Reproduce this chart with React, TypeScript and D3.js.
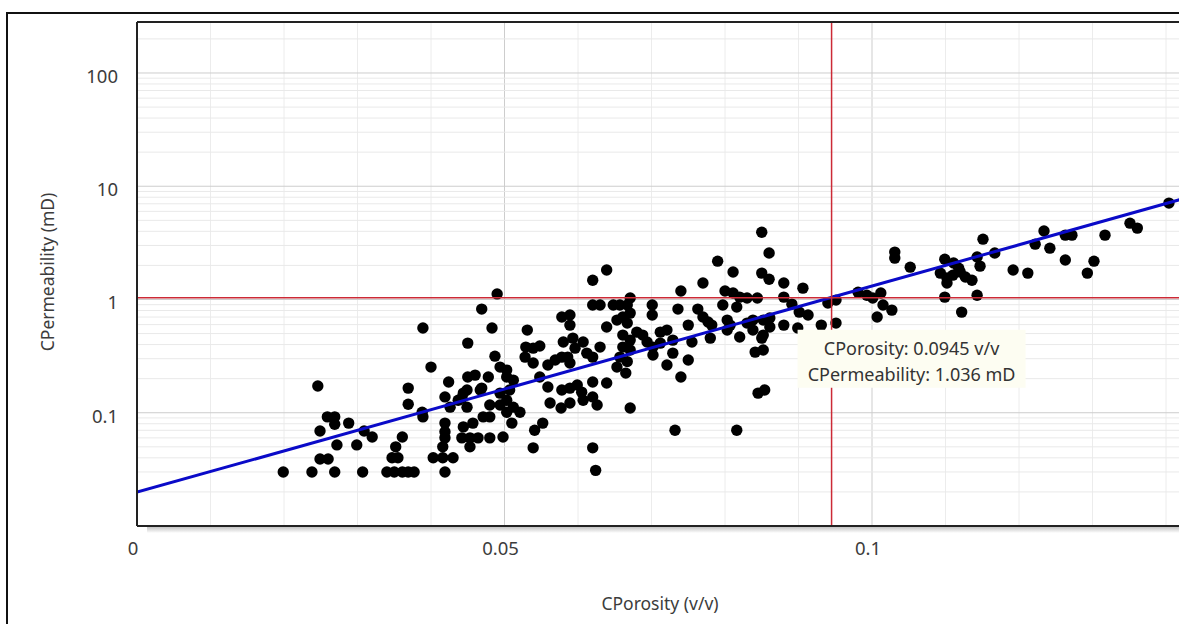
import React from "react";
import * as d3 from "d3";

const porosity = [
  0.0199, 0.0238, 0.0269, 0.0307, 0.0340, 0.0350, 0.0361, 0.0369, 0.0377, 0.0419,
  0.0246, 0.0389, 0.0400, 0.0369, 0.0369, 0.0259, 0.0269, 0.0269, 0.0288, 0.0249,
  0.0309, 0.0320, 0.0272, 0.0299, 0.0249, 0.0260, 0.0361, 0.0352, 0.0347, 0.0355,
  0.0389, 0.0388, 0.0419, 0.0424, 0.0419, 0.0419, 0.0419, 0.0416, 0.0403, 0.0416,
  0.0430, 0.0442, 0.0453, 0.0464, 0.0480, 0.0453, 0.0444, 0.0457, 0.0471, 0.0480,
  0.0442, 0.0449, 0.0450, 0.0460, 0.0469, 0.0450, 0.0469, 0.0483, 0.0490, 0.0487,
  0.0478, 0.0494, 0.0503, 0.0480, 0.0494, 0.0503, 0.0498, 0.0507, 0.0444, 0.0437,
  0.0426, 0.0449, 0.0467, 0.0503, 0.0512, 0.0494, 0.0503, 0.0512, 0.0521, 0.0510,
  0.0541, 0.0552, 0.0539, 0.0531, 0.0529, 0.0539, 0.0548, 0.0528, 0.0539, 0.0559,
  0.0569, 0.0578, 0.0586, 0.0589, 0.0548, 0.0559, 0.0562, 0.0577, 0.0589, 0.0578,
  0.0589, 0.0599, 0.0605, 0.0607, 0.0578, 0.0589, 0.0589, 0.0580, 0.0593, 0.0607,
  0.0612, 0.0620, 0.0596, 0.0620, 0.0639, 0.0620, 0.0630, 0.0620, 0.0620, 0.0626,
  0.0620, 0.0624, 0.0639, 0.0630, 0.0639, 0.0648, 0.0657, 0.0667, 0.0671, 0.0653,
  0.0661, 0.0671, 0.0667, 0.0661, 0.0671, 0.0661, 0.0671, 0.0657, 0.0667, 0.0653,
  0.0665, 0.0671, 0.0680, 0.0688, 0.0694, 0.0702, 0.0701, 0.0701, 0.0702, 0.0712,
  0.0721, 0.0712, 0.0721, 0.0729, 0.0729, 0.0736, 0.0740, 0.0750, 0.0755, 0.0750,
  0.0740, 0.0763, 0.0770, 0.0777, 0.0782, 0.0780, 0.0770, 0.0790, 0.0800, 0.0811,
  0.0820, 0.0830, 0.0844, 0.0797, 0.0816, 0.0803, 0.0803, 0.0820, 0.0811, 0.0732,
  0.0816, 0.0850, 0.0860, 0.0850, 0.0860, 0.0880, 0.0906, 0.0807, 0.0830, 0.0838,
  0.0852, 0.0861, 0.0838, 0.0852, 0.0861, 0.0850, 0.0841, 0.0852, 0.0845, 0.0854,
  0.0880, 0.0891, 0.0901, 0.0913, 0.0880, 0.0899, 0.0931, 0.0940, 0.0951, 0.0951,
  0.0981, 0.0993, 0.1001, 0.1012, 0.1015, 0.1027, 0.1007, 0.1031, 0.1031, 0.1052,
  0.1099, 0.1111, 0.1093, 0.1102, 0.1110, 0.1120, 0.1127, 0.1136, 0.1102, 0.1099,
  0.1122, 0.1143, 0.1147, 0.1143, 0.1151, 0.1167, 0.1192, 0.1212, 0.1222, 0.1234,
  0.1242, 0.1263, 0.1272, 0.1263, 0.1293, 0.1302, 0.1317, 0.1351, 0.1361, 0.1404,
  0.1118,
];

const permeability = [
  0.030, 0.030, 0.030, 0.030, 0.030, 0.030, 0.030, 0.030, 0.030, 0.030,
  0.172, 0.560, 0.253, 0.165, 0.119, 0.092, 0.092, 0.079, 0.081, 0.069,
  0.069, 0.061, 0.052, 0.052, 0.039, 0.039, 0.061, 0.050, 0.040, 0.040,
  0.092, 0.101, 0.138, 0.187, 0.081, 0.068, 0.060, 0.050, 0.040, 0.040,
  0.040, 0.060, 0.060, 0.060, 0.060, 0.050, 0.075, 0.081, 0.092, 0.092,
  0.135, 0.159, 0.207, 0.215, 0.165, 0.412, 0.823, 0.560, 1.12, 0.316,
  0.207, 0.253, 0.238, 0.117, 0.117, 0.101, 0.061, 0.159, 0.149, 0.129,
  0.112, 0.112, 0.159, 0.207, 0.194, 0.149, 0.129, 0.112, 0.101, 0.081,
  0.070, 0.081, 0.049, 0.537, 0.380, 0.372, 0.388, 0.310, 0.275, 0.264,
  0.292, 0.310, 0.310, 0.275, 0.207, 0.169, 0.122, 0.110, 0.122, 0.159,
  0.165, 0.176, 0.152, 0.129, 0.700, 0.729, 0.594, 0.421, 0.456, 0.421,
  0.336, 0.310, 0.372, 1.48, 1.82, 0.893, 0.893, 0.187, 0.138, 0.117,
  0.049, 0.031, 0.183, 0.380, 0.571, 0.893, 0.893, 0.893, 1.03, 0.658,
  0.700, 0.758, 0.619, 0.485, 0.438, 0.380, 0.358, 0.310, 0.283, 0.253,
  0.224, 0.110, 0.515, 0.485, 0.421, 0.380, 0.893, 0.729, 0.323, 0.515,
  0.537, 0.412, 0.264, 0.438, 0.336, 0.823, 1.19, 0.594, 0.421, 0.292,
  0.207, 0.823, 0.700, 0.632, 0.594, 0.456, 1.40, 2.18, 1.19, 1.14,
  1.05, 1.03, 1.03, 0.893, 0.857, 0.658, 0.537, 0.466, 1.75, 0.070,
  0.070, 3.93, 2.57, 1.71, 1.51, 1.40, 1.26, 0.594, 0.619, 0.658,
  0.658, 0.686, 0.537, 0.485, 0.571, 0.456, 0.343, 0.358, 0.149, 0.159,
  1.05, 0.91, 0.774, 0.729, 0.594, 0.560, 0.594, 0.930, 0.988, 0.619,
  1.16, 1.09, 1.03, 1.14, 0.893, 0.806, 0.700, 2.62, 2.32, 1.93,
  2.27, 2.10, 1.71, 1.55, 1.64, 1.75, 1.58, 1.48, 1.40, 1.05,
  0.774, 2.37, 1.97, 1.09, 3.41, 2.57, 1.82, 1.71, 3.08, 4.02,
  2.84, 3.70, 3.70, 2.23, 1.71, 2.18, 3.70, 4.72, 4.27, 7.10,
  1.89,
];

// regression line end points
const fitPorosity = [0, 0.15];
const fitPermeability = [0.0199, 10.69];

// cursor readout
const cursorPorosity = 0.0945;
const cursorPermeability = 1.036;

const xTickValues = [0, 0.05, 0.1];
const xTickLabels = ["0", "0.05", "0.1"];
const yTickValues = [0.1, 1, 10, 100];
const yTickLabels = ["0.1", "1", "10", "100"];

const xTitle = "CPorosity (v/v)";
const yTitle = "CPermeability (mD)";

export default function App() {
  const W = 1179;
  const H = 624;
  const left = 137;
  const top = 22;
  const bottom = 526;
  const right = 1239.5;

  const x = d3.scaleLinear().domain([0, 0.15]).range([left, right]);
  const y = d3.scaleLog().domain([0.01, 282]).range([bottom, top]);

  const minorX = d3.range(1, 15).map((i) => i / 100);
  const yGrid: { v: number; major: boolean }[] = [];
  for (let d = -2; d <= 2; d++) {
    for (let m = 1; m <= 9; m++) {
      const v = m * Math.pow(10, d);
      if (v > 282 || v <= 0.01) continue;
      yGrid.push({ v, major: m === 1 });
    }
  }

  const fitLine = d3
    .line<number>()
    .x((d) => x(d))
    .y((_, i) => y(fitPermeability[i]));

  const font = "'Noto Sans', 'DejaVu Sans', sans-serif";
  const cx = x(cursorPorosity);
  const cy = y(cursorPermeability);
  const tipCx = cx + 80;

  return (
    <svg
      width={W}
      height={H}
      style={{ position: "absolute", left: 0, top: 0, background: "#fff" }}
    >
      <defs>
        <clipPath id="plotClip">
          <rect x={left} y={top} width={right - left} height={bottom - top} />
        </clipPath>
        <linearGradient id="shadow" x1="0" y1="0" x2="0" y2="1">
          <stop offset="0" stopColor="#c4c4c4" />
          <stop offset="1" stopColor="#ffffff" />
        </linearGradient>
      </defs>
      <rect x={0} y={0} width={W} height={H} fill="#fff" />
      {/* outer frame */}
      <rect x={7} y={13} width={W + 20} height={H + 20} fill="none" stroke="#111" strokeWidth={2} />

      {/* shadow under x axis */}
      <rect x={left + 10} y={bottom + 1} width={right - left} height={6} fill="url(#shadow)" />

      <g clipPath="url(#plotClip)">
        <rect x={left} y={top} width={right - left} height={bottom - top} fill="#fff" />
        {minorX.map((v) => {
          const major = Math.abs((v * 100) % 5) < 1e-6;
          return (
            <line
              key={"gx" + v}
              x1={x(v)}
              x2={x(v)}
              y1={top}
              y2={bottom}
              stroke={major ? "#cdcdcd" : "#ececec"}
              strokeWidth={1}
            />
          );
        })}
        {yGrid.map((g) => (
          <line
            key={"gy" + g.v}
            x1={left}
            x2={right}
            y1={y(g.v)}
            y2={y(g.v)}
            stroke={g.major ? "#cdcdcd" : "#e9e9e9"}
            strokeWidth={1}
          />
        ))}

        {porosity.map((p, i) => (
          <circle key={"p" + i} cx={x(p)} cy={y(permeability[i])} r={5.7} fill="#000" />
        ))}

        <path d={fitLine(fitPorosity) || ""} fill="none" stroke="#0a0ac8" strokeWidth={3} />

        <line x1={left} x2={right} y1={cy} y2={cy} stroke="#cc2a36" strokeWidth={1.5} />
        <line x1={cx} x2={cx} y1={top} y2={bottom} stroke="#cc2a36" strokeWidth={1.5} />

        <rect x={tipCx - 114} y={cy + 32} width={228} height={58} fill="#fdfdf2" />
        <text
          x={tipCx}
          y={cy + 57}
          textAnchor="middle"
          fontFamily={font}
          fontSize={18}
          fill="#333"
        >
          {`CPorosity: ${cursorPorosity} v/v`}
        </text>
        <text
          x={tipCx}
          y={cy + 83}
          textAnchor="middle"
          fontFamily={font}
          fontSize={18}
          fill="#333"
        >
          {`CPermeability: ${cursorPermeability} mD`}
        </text>
      </g>

      {/* plot frame */}
      <line x1={left} x2={W} y1={top} y2={top} stroke="#222" strokeWidth={2} />
      <line x1={left} x2={left} y1={top} y2={bottom} stroke="#222" strokeWidth={2} />
      <line x1={left} x2={W} y1={bottom} y2={bottom} stroke="#222" strokeWidth={2} />

      {xTickValues.map((v, i) => (
        <text
          key={"xt" + i}
          x={x(v) - 4}
          y={555}
          textAnchor="middle"
          fontFamily={font}
          fontSize={18.5}
          fill="#3c3c3c"
        >
          {xTickLabels[i]}
        </text>
      ))}
      {yTickValues.map((v, i) => (
        <text
          key={"yt" + i}
          x={118}
          y={y(v) + 10}
          textAnchor="end"
          fontFamily={font}
          fontSize={18.5}
          fill="#3c3c3c"
        >
          {yTickLabels[i]}
        </text>
      ))}

      <text x={660} y={610} textAnchor="middle" fontFamily={font} fontSize={17.5} fill="#3c3c3c">
        {xTitle}
      </text>
      <text
        transform={`translate(54, 272) rotate(-90)`}
        textAnchor="middle"
        fontFamily={font}
        fontSize={17.5}
        fill="#3c3c3c"
      >
        {yTitle}
      </text>
    </svg>
  );
}
